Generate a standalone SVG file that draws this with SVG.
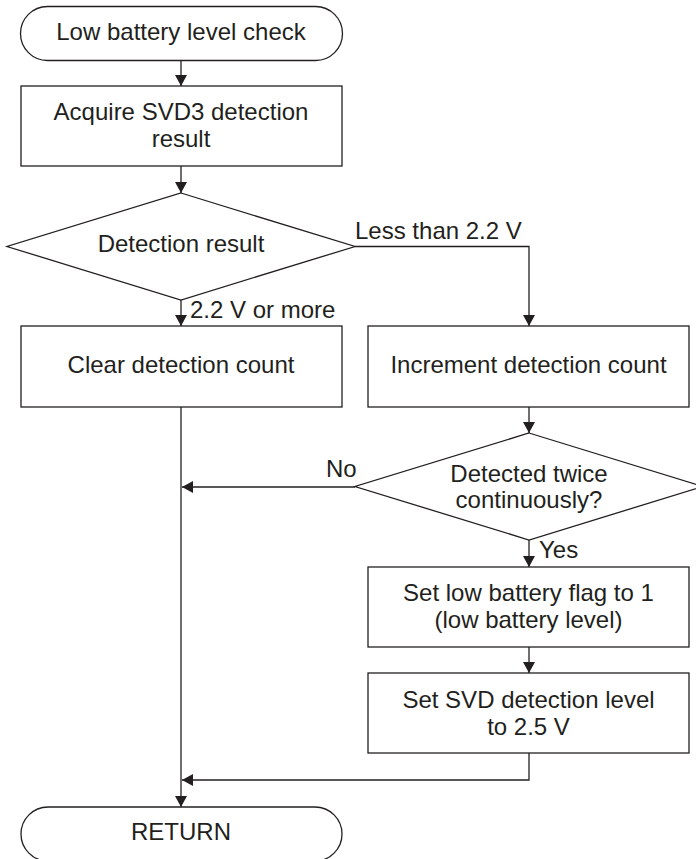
<svg xmlns="http://www.w3.org/2000/svg" width="696" height="859" viewBox="0 0 696 859">
<style>
.s{fill:#fff;stroke:#231f20;stroke-width:1.3}
.c{fill:none;stroke:#231f20;stroke-width:1.3}
text{font-family:"Liberation Sans",Arial,sans-serif;font-size:24px;fill:#231f20}
.m{text-anchor:middle}
</style>
<defs>
<marker id="ah" markerUnits="userSpaceOnUse" markerWidth="12" markerHeight="12" refX="11" refY="6" orient="auto" viewBox="0 0 12 12">
<path d="M0,0 L11,6 L0,12 Z" fill="#231f20"/>
</marker>
</defs>
<rect width="696" height="859" fill="#fff"/>
<g id="connectors">
<line class="c" x1="181" y1="60" x2="181" y2="86" marker-end="url(#ah)"/>
<line class="c" x1="181" y1="166" x2="181" y2="193" marker-end="url(#ah)"/>
<line class="c" x1="181" y1="300" x2="181" y2="326" marker-end="url(#ah)"/>
<polyline class="c" points="355,246.5 529,246.5 529,326" marker-end="url(#ah)"/>
<line class="c" x1="529" y1="407" x2="529" y2="433" marker-end="url(#ah)"/>
<line class="c" x1="355" y1="487" x2="182" y2="487" marker-end="url(#ah)"/>
<line class="c" x1="529" y1="540" x2="529" y2="567" marker-end="url(#ah)"/>
<line class="c" x1="529" y1="647" x2="529" y2="673" marker-end="url(#ah)"/>
<polyline class="c" points="529,753 529,780 182,780" marker-end="url(#ah)"/>
<line class="c" x1="181" y1="407" x2="181" y2="807" marker-end="url(#ah)"/>
<text x="190" y="318">2.2 V or more</text>
<text x="355" y="239">Less than 2.2 V</text>
<text x="326" y="477">No</text>
<text x="539" y="558">Yes</text>
</g>
<g id="start">
<rect class="s" x="20.5" y="6.5" width="322" height="54" rx="27"/>
<text class="m" x="181" y="40">Low battery level check</text>
</g>
<g id="acquire">
<rect class="s" x="21" y="86" width="321" height="80"/>
<text class="m" x="181" y="120">Acquire SVD3 detection</text>
<text class="m" x="181" y="147">result</text>
</g>
<g id="decision1">
<polygon class="s" points="181,193 355,246.5 181,300 7,246.5"/>
<text class="m" x="181" y="252">Detection result</text>
</g>
<g id="clear">
<rect class="s" x="21" y="326" width="321" height="81"/>
<text class="m" x="181" y="373">Clear detection count</text>
</g>
<g id="increment">
<rect class="s" x="368" y="326" width="321" height="81"/>
<text class="m" x="528.5" y="373">Increment detection count</text>
</g>
<g id="decision2">
<polygon class="s" points="529,433 703,486.5 529,540 355,486.5"/>
<text class="m" x="529" y="482">Detected twice</text>
<text class="m" x="529" y="508">continuously?</text>
</g>
<g id="setflag">
<rect class="s" x="368" y="567" width="321" height="80"/>
<text class="m" x="528.5" y="601">Set low battery flag to 1</text>
<text class="m" x="528.5" y="628">(low battery level)</text>
</g>
<g id="setsvd">
<rect class="s" x="368" y="673" width="321" height="80"/>
<text class="m" x="528.5" y="708">Set SVD detection level</text>
<text class="m" x="528.5" y="735">to 2.5 V</text>
</g>
<g id="return">
<rect class="s" x="21" y="807" width="321" height="54" rx="27"/>
<text class="m" x="181" y="840">RETURN</text>
</g>
</svg>
